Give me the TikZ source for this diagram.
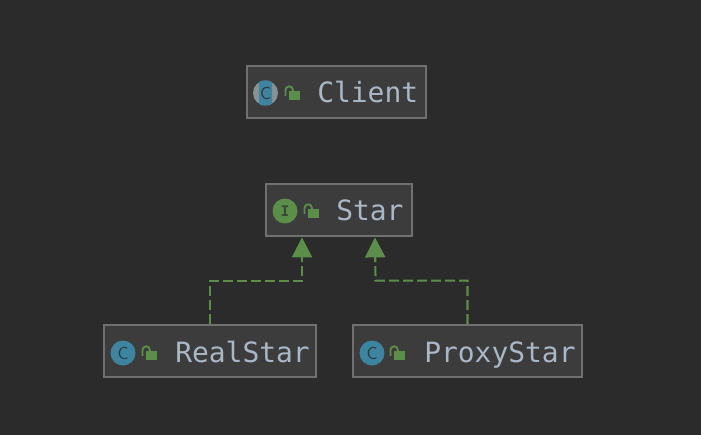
\documentclass[tikz,border=0pt]{standalone}
\usepackage{fontspec}
\setmonofont{DejaVu Sans Mono}
\usetikzlibrary{arrows.meta}
\usetikzlibrary{calc}

\definecolor{bgdark}{HTML}{2B2B2B}
\definecolor{boxfill}{HTML}{3C3C3C}
\definecolor{boxline}{HTML}{707070}
\definecolor{labeltext}{HTML}{A9B7C6}
\definecolor{umlgreen}{HTML}{5B8F49}
\definecolor{classteal}{HTML}{3D84A0}
\definecolor{icongray}{HTML}{8B9294}

\begin{document}
\begin{tikzpicture}[x=0.75pt,y=-0.75pt]
            \tikzset{classbox/.style={draw=boxline,fill=boxfill,line width=1.5pt,inner sep=0pt,minimum height=39.25pt,minimum width=#1*0.75pt}}
            \tikzstyle{label}=[text=labeltext,inner sep=0pt,anchor=base west,font=\fontsize{20.95}{24}\selectfont\ttfamily]
            \tikzstyle{edge}=[draw=umlgreen,line width=1.6pt,dash pattern=on 7.5pt off 3pt,-{Triangle[length=15pt,width=15pt,fill=umlgreen]}]
            \tikzstyle{iconc}=[circle,fill=classteal,minimum size=18.75pt,inner sep=0pt,text=bgdark!85!classteal,font=\fontsize{13}{14}\selectfont\sffamily]
            \tikzstyle{iconi}=[circle,fill=umlgreen,minimum size=18.75pt,inner sep=0pt,text=bgdark!70!umlgreen,font=\fontsize{11}{12}\selectfont\bfseries\ttfamily]
            \tikzset{lock/.pic={
                \fill[umlgreen] (0,0) rectangle (10.5,9);
                \draw[umlgreen,line width=1.4pt] (-3.5,5) -- (-3.5,-1) arc[start angle=180,end angle=360,radius=3.7] -- (3.9,0);
            }}

            \fill[bgdark] (0,0) rectangle (701,435);
            \useasboundingbox (0,0) rectangle (701,435);

            \node[classbox=179] (client)    at (336.5,92.25) {};
            \node[classbox=146] (star)      at (339,210.25) {};
            \node[classbox=212] (realstar)  at (210,351.25) {};
            \node[classbox=229] (proxystar) at (467.5,351.25) {};

            % client has the gray ring behind a teal block
            \node[circle,fill=icongray,minimum size=18.75pt,inner sep=0pt] (clientring) at (265.5,93) {};
            \node[rectangle,rounded corners=2.5pt,fill=classteal,minimum width=10pt,minimum height=18.5pt,inner sep=0pt,text=bgdark!85!classteal,font=\fontsize{13}{14}\selectfont\sffamily] (clientc) at (265.5,93) {\makebox[0pt]{C}};
            \node[iconi] (stari)  at (285,211) {I};
            \node[iconc] (realc)  at (123,353) {C};
            \node[iconc] (proxyc) at (372,353) {C};

            \pic at (289,91)  {lock};
            \pic at (308,209) {lock};
            \pic at (146,351) {lock};
            \pic at (394,351) {lock};

            \node[label] (clientlabel) at (317,103) {Client};
            \node[label] (starlabel)   at (336,221) {Star};
            \node[label] (reallabel)   at (175,363) {RealStar};
            \node[label] (proxylabel)  at (424,363) {ProxyStar};

            \path[edge] (realstar.north)  |- ++(92,-43.5) -- ($(star.south)+(-37,0)$);
            \path[edge] (proxystar.north) |- ++(-92,-43.5) -- ($(star.south)+(36,0)$);
\end{tikzpicture}
\end{document}
